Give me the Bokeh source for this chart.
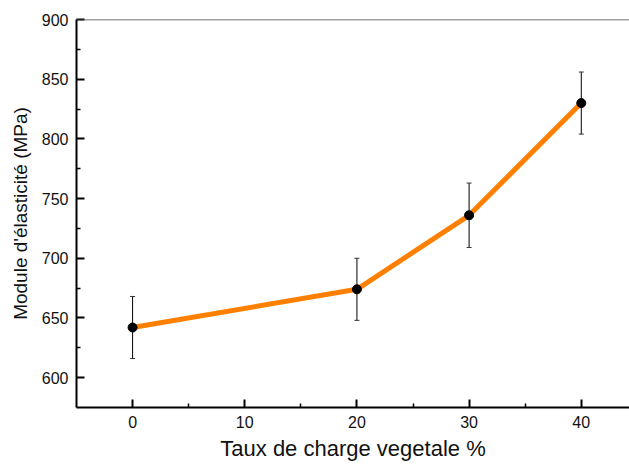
from bokeh.plotting import figure
from bokeh.models import ColumnDataSource, Whisker, TeeHead, Span, Range1d, FixedTicker
from bokeh.embed import file_html
from bokeh.resources import INLINE

# Data
taux = [0, 20, 30, 40]
module = [642, 674, 736, 830]
erreur = [26, 26, 27, 26]
x_ticks = [0, 10, 20, 30, 40]
y_ticks = [600, 650, 700, 750, 800, 850, 900]

lower = [m - e for m, e in zip(module, erreur)]
upper = [m + e for m, e in zip(module, erreur)]
src = ColumnDataSource(dict(x=taux, y=module, lower=lower, upper=upper))

FONT = "Liberation Sans"

p = figure(width=629, height=464, output_backend="svg", toolbar_location=None,
           x_range=Range1d(-5, 44.3), y_range=Range1d(575, 900),
           min_border_left=76, min_border_top=19, min_border_bottom=57, min_border_right=0)
p.outline_line_color = None
p.xgrid.grid_line_color = None
p.ygrid.grid_line_color = None
p.background_fill_color = "white"
p.border_fill_color = "white"

for ax in (p.xaxis[0], p.yaxis[0]):
    ax.axis_line_width = 2
    ax.axis_line_color = "black"
    ax.major_tick_in = 8
    ax.major_tick_out = 0
    ax.minor_tick_in = 4
    ax.minor_tick_out = 0
    ax.major_tick_line_width = 2
    ax.minor_tick_line_width = 1.5
    ax.major_tick_line_color = "black"
    ax.minor_tick_line_color = "black"
    ax.major_label_text_font = FONT
    ax.major_label_text_font_size = "16px"
    ax.major_label_text_color = "#111111"
    ax.axis_label_text_font = FONT
    ax.axis_label_text_font_style = "normal"
    ax.axis_label_text_color = "#111111"

p.xaxis.ticker = FixedTicker(ticks=x_ticks, minor_ticks=[5, 15, 25, 35])
p.yaxis.ticker = FixedTicker(ticks=y_ticks, minor_ticks=[625, 675, 725, 775, 825, 875])
p.xaxis.axis_label = "Taux de charge vegetale %"
p.yaxis.axis_label = "Module d'élasticité (MPa)"
p.xaxis.axis_label_text_font_size = "22px"
p.yaxis.axis_label_text_font_size = "19px"
p.xaxis.major_label_standoff = 8
p.yaxis.major_label_standoff = 8
p.xaxis.axis_label_standoff = 5
p.yaxis.axis_label_standoff = 8

p.add_layout(Span(location=900, dimension="width", line_color="#444444", line_width=1.5))

w = Whisker(source=src, base="x", lower="lower", upper="upper",
            line_color="black", line_width=1,
            upper_head=TeeHead(size=5, line_color="#333333", line_width=1),
            lower_head=TeeHead(size=5, line_color="#333333", line_width=1))
p.add_layout(w)

p.line("x", "y", source=src, line_color="#FF8000", line_width=5)
p.scatter("x", "y", source=src, size=9, fill_color="black", line_color="black")

open("out.html", "w").write(file_html(p, INLINE))
